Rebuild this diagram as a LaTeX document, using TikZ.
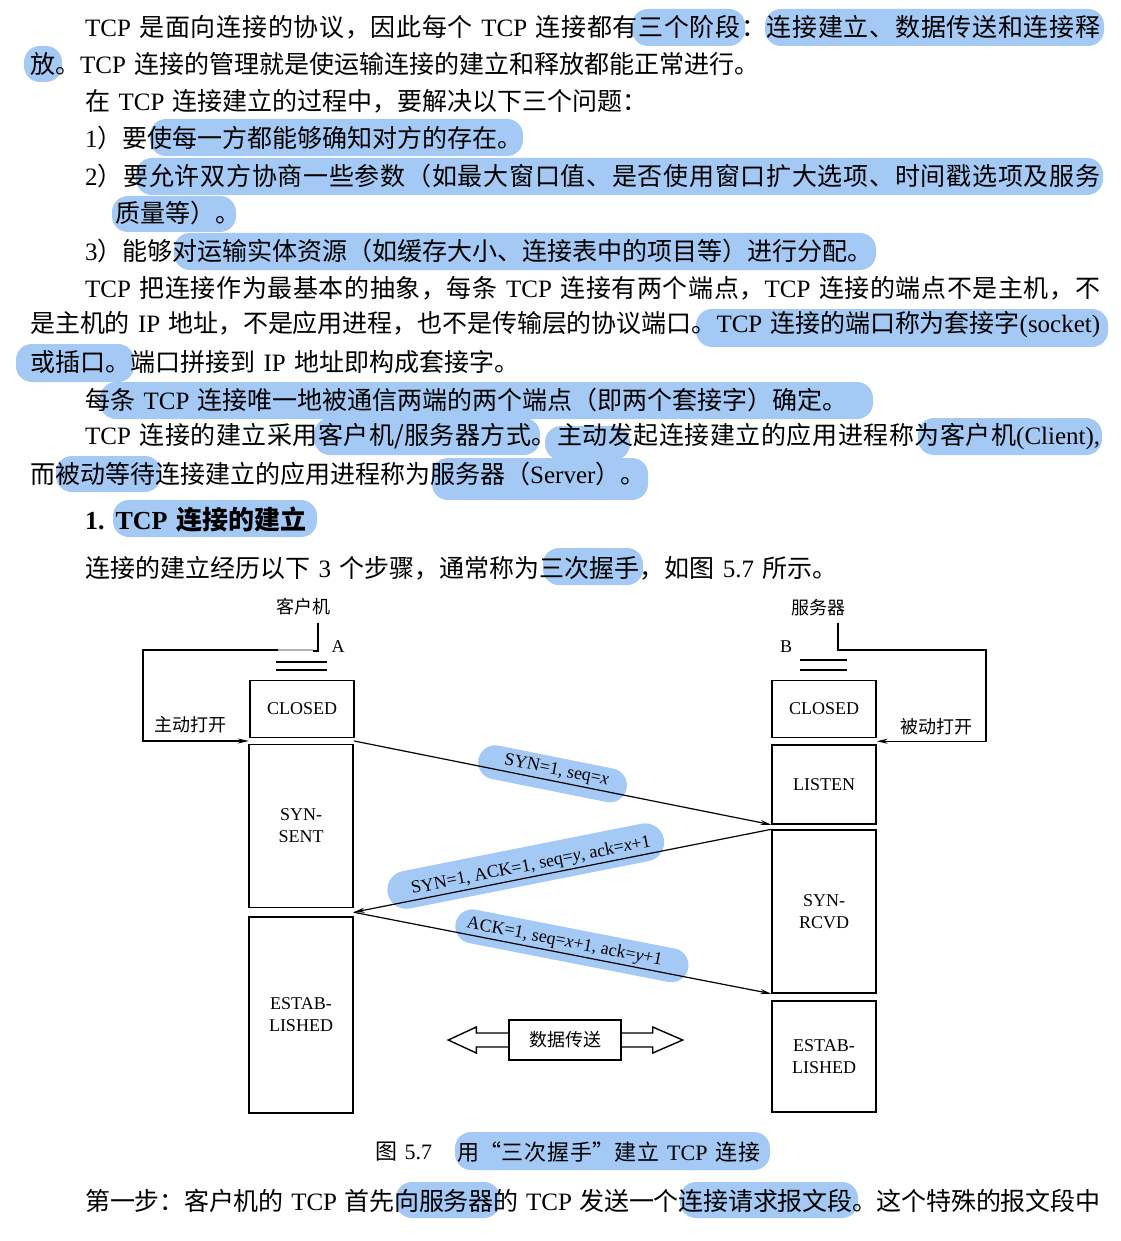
\documentclass[tikz,border=0pt]{standalone}
\usepackage{fontspec}
\setmainfont{Liberation Serif}
\newfontfamily\zhfont[WordSpace={1.5,0.2,1}]{Noto Sans CJK SC}
\usetikzlibrary{arrows.meta,calc,positioning}
% glue between CJK characters, so that full lines can be justified
\XeTeXinterchartokenstate=1
\newXeTeXintercharclass\cjkclass
\count255="4E00
\loop\XeTeXcharclass\count255=\cjkclass\advance\count255 by 1 \ifnum\count255<"A000 \repeat
\count255="3000
\loop\XeTeXcharclass\count255=\cjkclass\advance\count255 by 1 \ifnum\count255<"3040 \repeat
\count255="FF00
\loop\XeTeXcharclass\count255=\cjkclass\advance\count255 by 1 \ifnum\count255<"FF60 \repeat
\XeTeXinterchartoks\cjkclass\cjkclass={\hskip0pt plus 3pt minus 0.5pt\relax}
\definecolor{hlblue}{RGB}{163,201,244}
\tikzset
{
    txt/.style   = {font=\zhfont\fontsize{25}{30}\selectfont, anchor=west, inner sep=0pt},
    hl/.style    = {fill=hlblue, rounded corners=16pt},
    stbox/.style = {draw=black, line width=1.4pt, minimum width=104pt, inner sep=0pt, align=center, font=\fontsize{18}{22}\selectfont},
    tag/.style   = {font=\zhfont\fontsize{18}{22}\selectfont, inner sep=0pt},
    msg/.style   = {font=\fontsize{18}{20}\selectfont, inner sep=2pt},
    stroke/.style = {draw=hlblue, line cap=round, line width=34pt},
    wire/.style  = {line width=1.2pt},
    >={Stealth[length=11pt,width=5pt]}
}
\newcommand{\en}[1]{{\rmfamily #1}}

\begin{document}
\begin{tikzpicture}[x=1pt, y=-1pt]
\fill[white] (0,0) rectangle (1120,1241);
\useasboundingbox (0,0) rectangle (1120,1241);

% highlights
\fill[hl] (632,9)    rectangle (745,46);
\fill[hl] (765,9)    rectangle (1104,46);
\fill[hl] (24,46)    rectangle (62,82);
\fill[hl] (150,119)  rectangle (523,156);
\fill[hl] (136,158)  rectangle (1103,195);
\fill[hl] (112,196)  rectangle (236,232);
\fill[hl] (174,233)  rectangle (876,270);
\fill[hl] (696,309)  rectangle (1108,347);
\fill[hl] (16,344)   rectangle (134,382);
\fill[hl] (100,382)  rectangle (873,419);
\fill[hl] (314,418)  rectangle (540,455);
\fill[hl] (545,426)  rectangle (630,460);
\fill[hl] (918,418)  rectangle (1102,455);
\fill[hl] (56,456)   rectangle (161,492);
\fill[hl] (432,458)  rectangle (648,500);
\fill[hl] (113,500)  rectangle (317,537);
\fill[hl] (543,548)  rectangle (643,585);
\fill[hl] (455,1132) rectangle (770,1170);
\fill[hl] (396,1182) rectangle (500,1218);
\fill[hl] (680,1182) rectangle (858,1218);

% text
\node (p1)[txt]  at (85,27)   {\makebox[1015pt][s]{\en{TCP} 是面向连接的协议，因此每个 \en{TCP} 连接都有三个阶段：连接建立、数据传送和连接释}};
\node (p2)[txt]  at (30,64)   {放。\en{TCP} 连接的管理就是使运输连接的建立和释放都能正常进行。};
\node (p3)[txt]  at (85,101)  {在 \en{TCP} 连接建立的过程中，要解决以下三个问题：};
\node (p4)[txt]  at (85,138)  {\en{1}）要使每一方都能够确知对方的存在。};
\node (p5)[txt]  at (85,176)  {\makebox[1015pt][s]{\en{2}）要允许双方协商一些参数（如最大窗口值、是否使用窗口扩大选项、时间戳选项及服务}};
\node (p6)[txt]  at (115,213) {质量等）。};
\node (p7)[txt]  at (85,251)  {\en{3}）能够对运输实体资源（如缓存大小、连接表中的项目等）进行分配。};
\node (p8)[txt]  at (85,288)  {\makebox[1015pt][s]{\en{TCP} 把连接作为最基本的抽象，每条 \en{TCP} 连接有两个端点，\en{TCP} 连接的端点不是主机，不}};
\node (p9)[txt]  at (30,325)  {\makebox[1070pt][s]{是主机的 \en{IP} 地址，不是应用进程，也不是传输层的协议端口。\en{TCP} 连接的端口称为套接字\en{(socket)}}};
\node (p10)[txt] at (30,362)  {或插口。端口拼接到 \en{IP} 地址即构成套接字。};
\node (p11)[txt] at (85,400)  {每条 \en{TCP} 连接唯一地被通信两端的两个端点（即两个套接字）确定。};
\node (p12)[txt] at (85,437)  {\makebox[1015pt][s]{\en{TCP} 连接的建立采用客户机/服务器方式。主动发起连接建立的应用进程称为客户机\en{(Client),}}};
\node (p13)[txt] at (30,474)  {而被动等待连接建立的应用进程称为服务器（\en{Server}）。};
\node (p14)[txt, font=\zhfont\bfseries\fontsize{26}{30}\selectfont] at (85,520) {\en{1.} \en{TCP} 连接的建立};
\node (p15)[txt] at (85,568)  {连接的建立经历以下 \en{3} 个步骤，通常称为三次握手，如图 \en{5.7} 所示。};

% diagram
\node (cli)[tag] at (303,607) {客户机};
\node (srv)[tag] at (818,608) {服务器};
\node (ha)[stbox, draw=none] at (338,647) {A};
\node (hb)[stbox, draw=none] at (786,647) {B};

\coordinate (aTop)  at (318,623);
\coordinate (aDot)  at (318,651);
\coordinate (aLoop) at (278,650);
\draw[wire] (aTop) -- (aDot) -- ++(-5,0);
\draw[wire, black!30] (aLoop) -- ++(35,0);
\draw[wire] (276,662) -- (327,662);
\draw[wire] (276,670) -- (327,670);

\coordinate (bTop)  at (838,623);
\coordinate (bLoop) at (845,650);
\draw[wire] (bTop) -- (838,650) -- (bLoop);
\draw[wire] (800,660) -- (847,660);
\draw[wire] (800,670) -- (847,670);

\node (lclosed)[stbox, minimum height=57pt]  at (302,709)    {CLOSED};
\node (lsyn)[stbox, minimum height=163pt]    at (301,826)    {SYN-\\SENT};
\node (lest)[stbox, minimum height=196pt]    at (301,1015)   {ESTAB-\\LISHED};
\node (rclosed)[stbox, minimum height=57pt]  at (824,709)    {CLOSED};
\node (rlisten)[stbox, minimum height=79pt]  at (824,784.5)  {LISTEN};
\node (rsynr)[stbox, minimum height=163pt]   at (824,911.5)  {SYN-\\RCVD};
\node (rest)[stbox, minimum height=111pt]    at (824,1056.5) {ESTAB-\\LISHED};

\node (act)[tag] at (190,725) {主动打开};
\node (pas)[tag] at (936,727) {被动打开};

\coordinate (lgapw) at ($(lclosed.south west)!.5!(lsyn.north west)$);
\coordinate (lgape) at ($(lclosed.south east)!.5!(lsyn.north east)$);
\coordinate (lgap2) at ($(lsyn.south east)!.5!(lest.north east)$);
\coordinate (rgape) at ($(rclosed.south east)!.5!(rlisten.north east)$);

\draw[wire,->] (aLoop) -- ++(-135,0) |- (lgapw);
\draw[wire,->] (bLoop) -- ++(141,0) |- (rgape);

% highlighter strokes under the messages
\draw[stroke] ($(lgape)!.338!(rlisten.south west)+(0,-7)$) -- ($(lgape)!.613!(rlisten.south west)+(0,-7)$);
\draw[stroke, line width=38pt] ($(rsynr.north west)!.302!(lgap2)+(0,-12)$) -- ($(rsynr.north west)!.874!(lgap2)+(0,-12)$);
\draw[stroke] ($(lgap2)!.284!(rsynr.south west)+(0,-9)$) -- ($(lgap2)!.761!(rsynr.south west)+(0,-9)$);

\draw[wire,->] (lgape) -- node[msg, sloped, above, pos=.48] (m1) {SYN=1, seq=\textit{x}} (rlisten.south west);
\draw[wire,->] (rsynr.north west) -- node[msg, sloped, above, pos=.57] (m2) {SYN=1, ACK=1, seq=\textit{y}, ack=\textit{x}+1} (lgap2);
\draw[wire,->] (lgap2) -- node[msg, sloped, above, pos=.5] (m3) {ACK=1, seq=\textit{x}+1, ack=\textit{y}+1} (rsynr.south west);

\node (data)[tag, draw, line width=1.4pt, minimum width=112pt, minimum height=40pt] at (565,1040) {数据传送};
\draw[line width=1.4pt] (data.west) ++(0,-7) -- ++(-32,0) -- ++(0,-6) -- ++(-28,13) -- ++(28,13) -- ++(0,-6) -- ++(32,0);
\draw[line width=1.4pt] (data.east) ++(0,-7) -- ++(31,0) -- ++(0,-6) -- ++(30,13) -- ++(-30,13) -- ++(0,-6) -- ++(-31,0);

% caption and last line
\node (cap)[txt, font=\zhfont\fontsize{22}{26}\selectfont] at (375,1152) {图 \en{5.7}};
\node (capt)[txt, font=\zhfont\fontsize{22}{26}\selectfont] at (457,1152) {\makebox[303pt][s]{用“三次握手”建立 \en{TCP} 连接}};
\node (p17)[txt] at (85,1201) {\makebox[1015pt][s]{第一步：客户机的 \en{TCP} 首先向服务器的 \en{TCP} 发送一个连接请求报文段。这个特殊的报文段中}};

\end{tikzpicture}
\end{document}
